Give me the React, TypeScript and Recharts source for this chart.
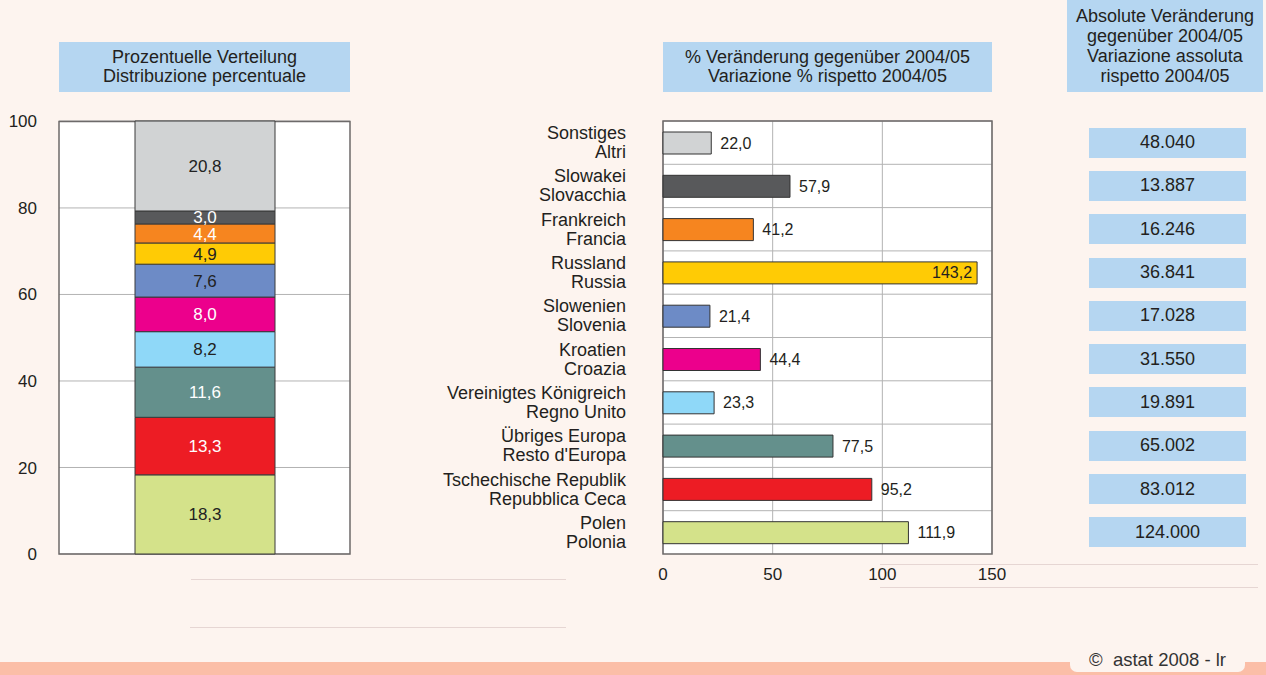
import React from 'react';
import { Bar, BarChart, CartesianGrid, Cell, LabelList, ReferenceArea, XAxis, YAxis } from 'recharts';

// categories, top to bottom as in the bar chart
const namesDe = [
  'Sonstiges',
  'Slowakei',
  'Frankreich',
  'Russland',
  'Slowenien',
  'Kroatien',
  'Vereinigtes Königreich',
  'Übriges Europa',
  'Tschechische Republik',
  'Polen',
];
const namesIt = [
  'Altri',
  'Slovacchia',
  'Francia',
  'Russia',
  'Slovenia',
  'Croazia',
  'Regno Unito',
  "Resto d'Europa",
  'Repubblica Ceca',
  'Polonia',
];
const shares = [20.8, 3.0, 4.4, 4.9, 7.6, 8.0, 8.2, 11.6, 13.3, 18.3];
const pctChange = [22.0, 57.9, 41.2, 143.2, 21.4, 44.4, 23.3, 77.5, 95.2, 111.9];
const absChange = [48040, 13887, 16246, 36841, 17028, 31550, 19891, 65002, 83012, 124000];
const colors = [
  '#d1d3d4',
  '#58595b',
  '#f6851f',
  '#ffcb05',
  '#6d8bc6',
  '#ec008c',
  '#8fd8f8',
  '#64908c',
  '#ed1c24',
  '#d4e28a',
];
const shareLabelColors = ['#222', '#fff', '#fff', '#222', '#222', '#fff', '#222', '#fff', '#fff', '#222'];
const shareTicks = [0, 20, 40, 60, 80, 100];
const pctTicks = [0, 50, 100, 150];

const FONT = '"Liberation Sans", Arial, Helvetica, sans-serif';
const BG = '#fdf4ef';
const BOX = '#b5d6f1';
const TEXT = '#231f20';

const comma = (v: number) => v.toFixed(1).replace('.', ',');
const thousands = (v: number) => String(v).replace(/\B(?=(\d{3})+(?!\d))/g, '.');

const stackRow: Record<string, number | string> = { name: 'all' };
namesDe.forEach((n, i) => {
  stackRow[n] = shares[i];
});
const stackData = [stackRow];
const stackOrder = namesDe.map((_, i) => i).reverse();

const pctData = namesDe.map((n, i) => ({ de: n, it: namesIt[i], value: pctChange[i] }));

const titleBox: React.CSSProperties = {
  position: 'absolute',
  background: BOX,
  color: TEXT,
  fontSize: 18,
  lineHeight: '19px',
  textAlign: 'center',
  display: 'flex',
  flexDirection: 'column',
  justifyContent: 'center',
  whiteSpace: 'nowrap',
};

function CountryTick(props: any) {
  const { x, y, index } = props;
  return (
    <g>
      <text x={x} y={y - 9.5} textAnchor="end" dominantBaseline="central" fill={TEXT} fontSize={18}>
        {namesDe[index]}
      </text>
      <text x={x} y={y + 9.5} textAnchor="end" dominantBaseline="central" fill={TEXT} fontSize={18}>
        {namesIt[index]}
      </text>
    </g>
  );
}

function PctLabel(props: any) {
  const { x, y, width, height, value } = props;
  const inside = value / 150 > 0.85;
  return (
    <text
      x={inside ? x + width - 5 : x + width + 9}
      y={y + height / 2}
      textAnchor={inside ? 'end' : 'start'}
      dominantBaseline="central"
      fill={TEXT}
      fontSize={16}
    >
      {comma(value)}
    </text>
  );
}

const hLine = (left: number, top: number, width: number): React.CSSProperties => ({
  position: 'absolute',
  left,
  top,
  width,
  height: 1,
  background: '#e6d6d3',
});

export default function App() {
  return (
    <div
      style={{
        position: 'absolute',
        left: 0,
        top: 0,
        width: 1266,
        height: 675,
        background: BG,
        fontFamily: FONT,
        overflow: 'hidden',
      }}
    >
      <div style={{ ...titleBox, left: 59, top: 42, width: 291, height: 50 }}>
        <div>Prozentuelle Verteilung</div>
        <div>Distribuzione percentuale</div>
      </div>
      <div style={{ ...titleBox, left: 663, top: 42, width: 329, height: 50 }}>
        <div>% Veränderung gegenüber 2004/05</div>
        <div>Variazione % rispetto 2004/05</div>
      </div>
      <div style={{ ...titleBox, left: 1067, top: 0, width: 196, height: 92, lineHeight: '20px' }}>
        <div>Absolute Veränderung</div>
        <div>gegenüber 2004/05</div>
        <div>Variazione assoluta</div>
        <div>rispetto 2004/05</div>
      </div>

      {/* left: stacked share */}
      <div style={{ position: 'absolute', left: 0, top: 111 }}>
        <BarChart
          width={360}
          height={460}
          data={stackData}
          margin={{ top: 10, right: 10, left: 0, bottom: 17 }}
          style={{ fontFamily: FONT }}
        >
          <CartesianGrid vertical={false} stroke="#b3b3b3" fill="#fff" />
          <XAxis dataKey="name" hide />
          <YAxis
            type="number"
            domain={[0, 100]}
            ticks={shareTicks}
            width={59}
            axisLine={false}
            tickLine={false}
            tickSize={0}
            tickMargin={22}
            tick={{ fill: TEXT, fontSize: 17 }}
            interval={0}
          />
          {stackOrder.map((i) => (
            <Bar
              key={namesDe[i]}
              dataKey={namesDe[i]}
              stackId="s"
              fill={colors[i]}
              stroke="#3a3a3a"
              strokeWidth={1}
              barSize={140}
              isAnimationActive={false}
            >
              <LabelList
                dataKey={namesDe[i]}
                position="center"
                fill={shareLabelColors[i]}
                fontSize={17}
                formatter={(v: any) => comma(Number(v))}
              />
            </Bar>
          ))}
          <ReferenceArea y1={0} y2={100} fill="none" stroke="#6d6a6a" strokeWidth={1.5} ifOverflow="visible" />
        </BarChart>
      </div>

      {/* middle: % change */}
      <div style={{ position: 'absolute', left: 420, top: 111 }}>
        <BarChart
          layout="vertical"
          width={600}
          height={473}
          data={pctData}
          margin={{ top: 10, right: 28, left: 0, bottom: 0 }}
          style={{ fontFamily: FONT }}
        >
          <CartesianGrid
            stroke="#b3b3b3"
            fill="#fff"
            horizontalCoordinatesGenerator={({ offset }: any) =>
              pctData.map((_, i) => offset.top + (i * offset.height) / pctData.length)
            }
          />
          <XAxis
            type="number"
            domain={[0, 150]}
            ticks={pctTicks}
            axisLine={false}
            tickLine={false}
            tickSize={0}
            tickMargin={14}
            height={30}
            tick={{ fill: TEXT, fontSize: 17 }}
            interval={0}
          />
          <YAxis
            type="category"
            dataKey="de"
            width={243}
            axisLine={false}
            tickLine={false}
            tickSize={0}
            tickMargin={37}
            tick={<CountryTick />}
            interval={0}
          />
          <Bar dataKey="value" barSize={22} stroke="#333" strokeWidth={1} isAnimationActive={false}>
            {pctData.map((d, i) => (
              <Cell key={d.de} fill={colors[i]} />
            ))}
            <LabelList dataKey="value" content={<PctLabel />} />
          </Bar>
          <ReferenceArea x1={0} x2={150} fill="none" stroke="#6d6a6a" strokeWidth={1.5} ifOverflow="visible" />
        </BarChart>
      </div>

      {/* right: absolute change */}
      <div
        style={{
          position: 'absolute',
          left: 1089,
          top: 121,
          width: 157,
          height: 433,
          display: 'flex',
          flexDirection: 'column',
        }}
      >
        {absChange.map((v, i) => (
          <div key={namesDe[i]} style={{ flex: 1, display: 'flex', alignItems: 'center' }}>
            <div
              style={{
                width: '100%',
                height: 30,
                background: BOX,
                color: TEXT,
                fontSize: 18,
                display: 'flex',
                alignItems: 'center',
                justifyContent: 'center',
              }}
            >
              {thousands(v)}
            </div>
          </div>
        ))}
      </div>

      <div style={hLine(191, 579, 375)} />
      <div style={hLine(190, 627, 376)} />
      <div style={hLine(880, 564, 378)} />
      <div style={hLine(880, 587, 378)} />

      <div style={{ position: 'absolute', left: 0, top: 662, width: 1266, height: 13, background: '#fbbea7' }} />
      <div
        style={{
          position: 'absolute',
          left: 1070,
          top: 648,
          width: 175,
          height: 24,
          background: BG,
          borderRadius: '0 0 7px 7px',
          color: '#333',
          fontSize: 18.5,
          display: 'flex',
          alignItems: 'center',
          justifyContent: 'center',
        }}
      >
        ©&nbsp;&nbsp;astat 2008 - lr
      </div>
    </div>
  );
}
